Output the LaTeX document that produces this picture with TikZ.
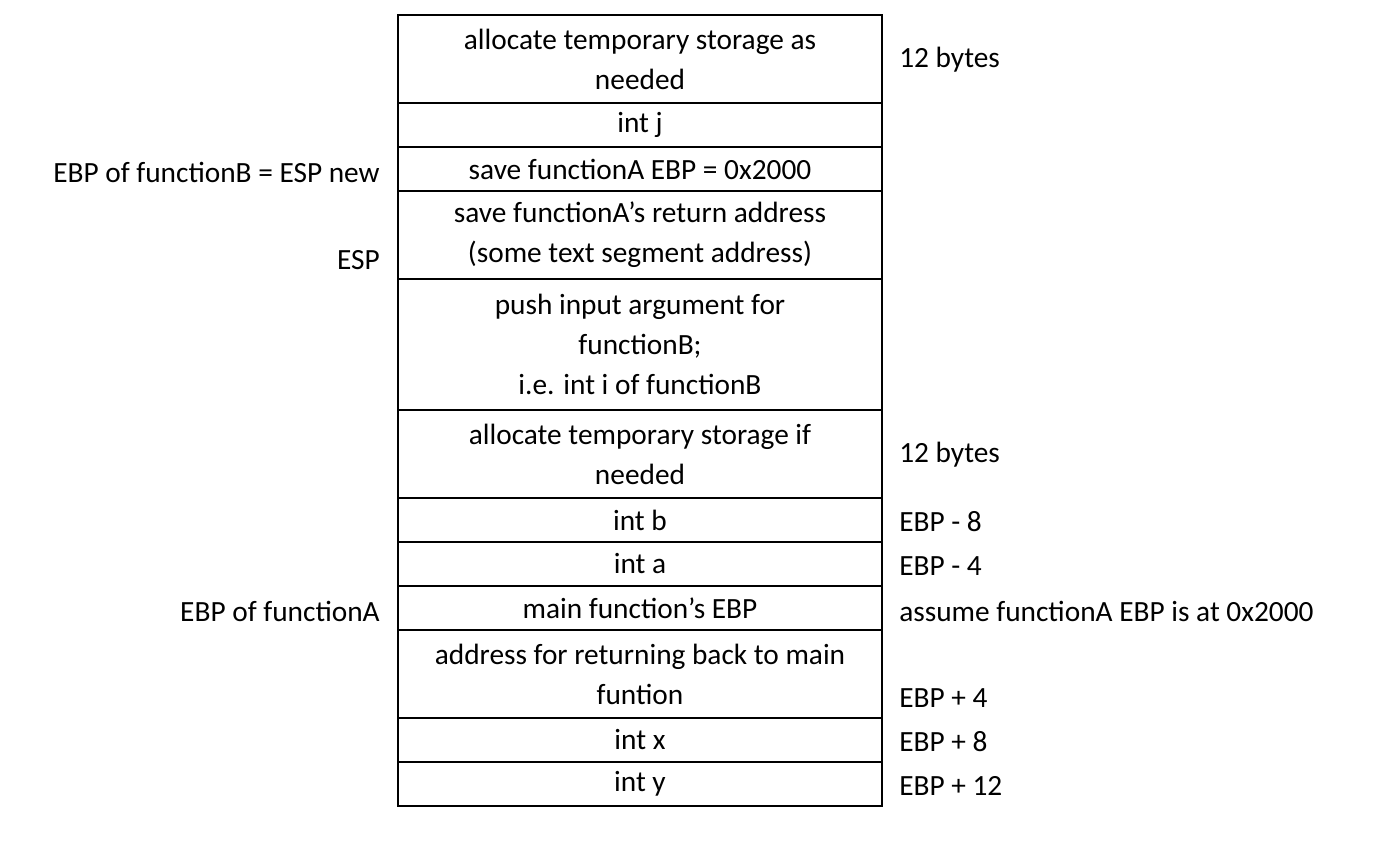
\documentclass[tikz,border=0pt]{standalone}
\usepackage{fontspec}
\setmainfont{Carlito}
\newcommand{\sq}{{\char"27}}
\begin{document}
\begin{tikzpicture}[x=0.75pt,y=-0.75pt,
  cell/.style={draw,thick,minimum width=363pt,align=center,inner sep=0pt,font=\fontsize{22}{30}\selectfont},
  lab/.style={inner sep=0pt,font=\fontsize{22}{30}\selectfont}]
\useasboundingbox (0,0) rectangle (1384,848);
\foreach \n/\a/\b/\t in {
 r1/15/103/{allocate temporary storage as\\needed},
 r2/103/147/{int j},
 r3/147/191/{save functionA EBP = 0x2000},
 r4/191/279/{save functionA\sq s return address\\(some text segment address)},
 r5/279/410/{push input argument for\\functionB;\\i.e. int i of functionB},
 r6/410/498/{allocate temporary storage if\\needed},
 r7/498/542/{int b},
 r8/542/586/{int a},
 r9/586/630/{main function\sq s EBP},
 r10/630/718/{address for returning back to main\\funtion},
 r11/718/762/{int x},
 r12/762/806/{int y}}
 {\node[cell,minimum height={(\b-\a)*0.75pt}] (\n) at (640,{(\a+\b)/2}) {\t};}
\node[lab,anchor=east] (l1) at (380,172) {EBP of functionB = ESP new};
\node[lab,anchor=east] (l2) at (380,260) {ESP};
\node[lab,anchor=east] (l3) at (380,611) {EBP of functionA};
\foreach \n/\y/\t in {a1/60/12 bytes,a2/455/12 bytes,a3/522/EBP - 8,a4/566/EBP - 4,a5/611/assume functionA EBP is at 0x2000,a6/698/EBP + 4,a7/742/EBP + 8,a8/786/EBP + 12}
 {\node[lab,anchor=west] (\n) at (899,\y) {\t};}
\end{tikzpicture}
\end{document}
